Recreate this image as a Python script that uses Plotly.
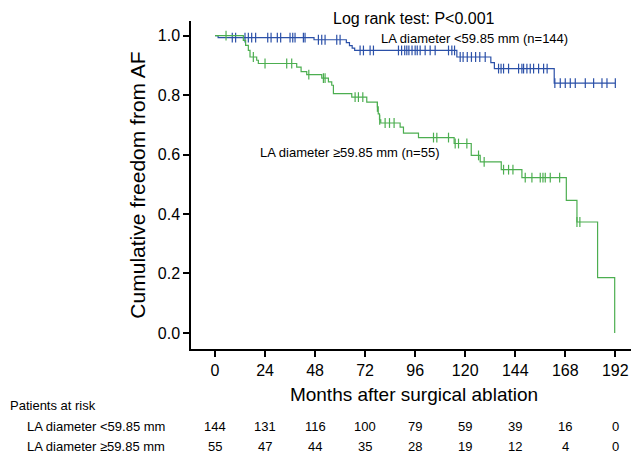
import numpy as np
import plotly.graph_objects as go

months = [0, 24, 48, 72, 96, 120, 144, 168, 192]
risk_small = [144, 131, 116, 100, 79, 59, 39, 16, 0]
risk_large = [55, 47, 44, 35, 28, 19, 12, 4, 0]

# LA diameter <59.85 mm, step points (month, survival) and censored times
small_t = [0, 1.5, 47.5, 63, 64.5, 65.8, 67, 116, 132.3, 134, 162.7, 192]
small_s = [1.0, 0.993, 0.986, 0.976, 0.966, 0.958, 0.950, 0.928, 0.909, 0.889, 0.840, 0.840]
small_cens = [8.3, 9.9, 14.4, 16, 17.6, 19.5, 25.3, 26.9, 29.9, 31.5, 36, 37.3, 38.4, 42.4, 43.2,
              49.6, 51.2, 52.8, 58.4, 60, 69.6, 71.2, 74.4, 76, 88, 89.5, 91, 92, 93, 94.5, 96, 97,
              98.4, 100.8, 103.2, 105.6, 112, 113.6, 114.9, 117.6, 119, 121, 123, 125, 127, 129.6,
              136, 137.2, 138.4, 140.8, 145.6, 147.2, 148, 149.6, 151.2, 152.8, 155.2, 157.6, 159.3,
              163, 165.6, 168, 170.4, 172.8, 177.6, 181.6, 185.6, 188, 192]

# LA diameter >=59.85 mm
large_t = [0, 13.6, 14.7, 16, 16.8, 20, 20.8, 39.2, 41.3, 44, 51.2, 54.4, 56, 56.8, 65.6, 72.8,
           77.9, 78.3, 78.9, 79.5, 88.8, 90.4, 97.6, 114.7, 122.9, 127.2, 137.3, 147.2, 168.5,
           173.6, 183.5, 191.7]
large_s = [1.0, 0.984, 0.967, 0.950, 0.928, 0.917, 0.906, 0.894, 0.879, 0.869, 0.857, 0.844, 0.833,
           0.805, 0.793, 0.776, 0.760, 0.737, 0.717, 0.706, 0.692, 0.672, 0.657, 0.637, 0.597, 0.575,
           0.549, 0.522, 0.446, 0.373, 0.186, 0.0]
large_cens = [5.3, 18.4, 24, 34.4, 36.8, 45, 52, 52.8, 67.2, 68.8, 70.9, 77.9, 79, 81.6, 83.7, 85.9,
              104.8, 106.4, 112, 115.2, 116.8, 120.8, 126.4, 129.1, 138.4, 140.8, 142.9, 148.8, 152,
              156, 157.3, 158.4, 160.8, 165.3, 173.6, 175]

blue = "#2b50a8"
green = "#4cae50"
font = "Liberation Sans, Arial, sans-serif"


def at(ts, ss, c):
    i = np.searchsorted(ts, c, side="right") - 1
    return [ss[k] for k in i]


fig = go.Figure()
for t, s, cens, col in [(small_t, small_s, small_cens, blue), (large_t, large_s, large_cens, green)]:
    fig.add_trace(go.Scatter(x=t, y=s, mode="lines", line=dict(color=col, width=1.2, shape="hv"),
                             showlegend=False, hoverinfo="skip"))
    fig.add_trace(go.Scatter(x=cens, y=at(np.array(t), s, np.array(cens)), mode="markers",
                             marker=dict(symbol="line-ns", size=7, line=dict(color=col, width=1.2)),
                             showlegend=False))

fig.update_xaxes(range=[-11.5, 202.4], tickvals=months, ticks="outside", ticklen=6, tickwidth=1.5,
                 tickcolor="black", showline=True, linecolor="black", linewidth=1.5, showgrid=False,
                 zeroline=False, automargin=False, tickfont=dict(size=16, color="black"),
                 title=dict(text="Months after surgical ablation", font=dict(size=19, color="black"),
                            standoff=10))
fig.update_yaxes(range=[-0.054, 1.049], tickvals=[0, 0.2, 0.4, 0.6, 0.8, 1.0], tickformat=".1f",
                 ticks="outside", ticklen=6, tickwidth=1.5, tickcolor="black", showline=True,
                 linecolor="black", linewidth=1.5, showgrid=False, zeroline=False, automargin=False,
                 tickfont=dict(size=16, color="black"),
                 title=dict(text="Cumulative freedom from AF", font=dict(size=21, color="black"),
                            standoff=6))

ann = [
    dict(x=0.5, y=1.0396, xref="paper", yref="paper", yanchor="top",
         text="Log rank test: P<0.001", font=dict(size=16)),
    dict(x=78.5, y=0.99, xanchor="left", yanchor="middle",
         text="LA diameter <59.85 mm (n=144)", font=dict(size=13)),
    dict(x=20.5, y=0.608, xanchor="left", yanchor="middle",
         text="LA diameter ≥59.85 mm (n=55)", font=dict(size=13)),
    dict(x=-0.41, y=-0.172, xref="paper", yref="paper", xanchor="left",
         text="Patients at risk", font=dict(size=13)),
    dict(x=-0.372, y=-0.236, xref="paper", yref="paper", xanchor="left",
         text="LA diameter <59.85 mm", font=dict(size=13)),
    dict(x=-0.372, y=-0.297, xref="paper", yref="paper", xanchor="left",
         text="LA diameter ≥59.85 mm", font=dict(size=13)),
]
for m, a, b in zip(months, risk_small, risk_large):
    ann.append(dict(x=m, y=-0.236, xref="x", yref="paper", xanchor="center",
                    text=str(a), font=dict(size=13)))
    ann.append(dict(x=m, y=-0.297, xref="x", yref="paper", xanchor="center",
                    text=str(b), font=dict(size=13)))
for a in ann:
    a.setdefault("showarrow", False)
    a.setdefault("yanchor", "middle")
    a["font"]["color"] = "black"
    a["font"]["family"] = font

fig.update_layout(width=639, height=458, margin=dict(l=183, r=10, t=13, b=117),
                  plot_bgcolor="white", paper_bgcolor="white",
                  font=dict(family=font, color="black"), annotations=ann)
fig.write_html("out.html")
